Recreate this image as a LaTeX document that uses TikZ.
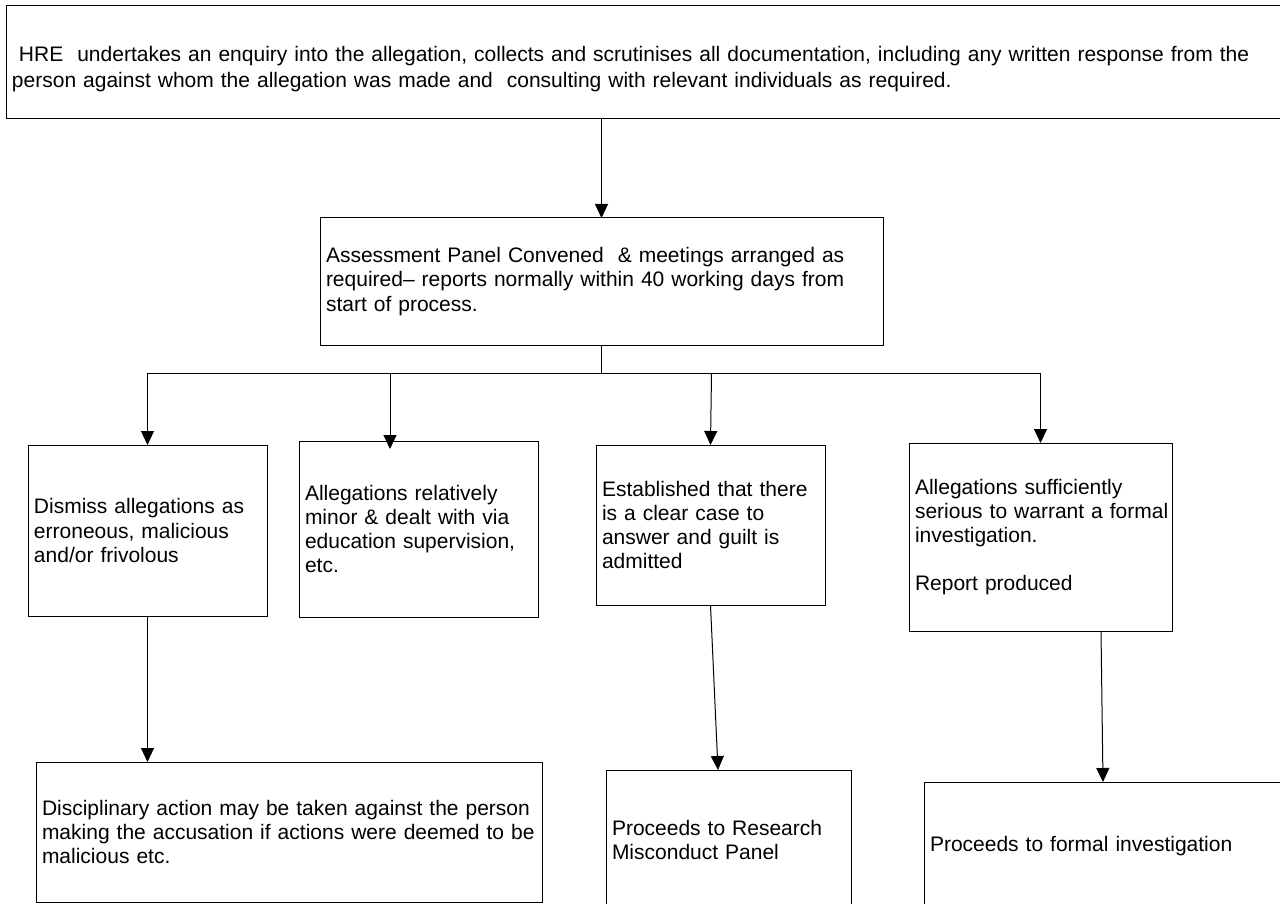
\documentclass[tikz,border=0pt]{standalone}
\usepackage{fontspec}
\setmainfont{Liberation Sans}
\usetikzlibrary{arrows.meta}
\hyphenpenalty=10000\relax
\exhyphenpenalty=10000\relax
\begin{document}
\begin{tikzpicture}[x=1pt,y=-1pt,
  every node/.style={font=\fontsize{21}{24.15}\selectfont},
  box/.style={draw=black, line width=1pt, anchor=north west, align=left,
    inner xsep=6pt, inner ysep=0pt, outer sep=0pt},
  conn/.style={draw=black, line width=1pt},
  arr/.style={conn, -{Triangle[length=14pt,width=13pt]}}]
\useasboundingbox (0,0) rectangle (1280,904);
\clip (0,0) rectangle (1280,904);

\node[box, minimum width=1284pt, minimum height=113pt, text width=1272pt,
      font=\fontsize{21}{26}\selectfont] (top) at (6,6)
  {\rule{0pt}{29pt}\ HRE\ \ undertakes an enquiry into the allegation, collects and scrutinises all documentation, including any written response from the\\
   person against whom the allegation was made and\ \ consulting with relevant individuals as required.};

\node[box, minimum width=563pt, minimum height=127pt, text width=551pt] (as) at (320,218)
  {Assessment Panel Convened\ \ \& meetings arranged as\\required– reports normally within 40 working days from\\start of process.};

\node[box, minimum width=239pt, minimum height=171pt, text width=227pt] (b1) at (28,445)
  {Dismiss allegations as\\erroneous, malicious\\and/or frivolous};
\node[box, minimum width=239pt, minimum height=176pt, text width=227pt] (b2) at (299,441)
  {Allegations relatively\\minor \& dealt with via\\education supervision,\\etc.};
\node[box, minimum width=229pt, minimum height=160pt, text width=217pt] (b3) at (596,445)
  {Established that there\\is a clear case to\\answer and guilt is\\admitted};
\node[box, minimum width=263pt, minimum height=188pt, text width=251pt] (b4) at (909,443)
  {Allegations sufficiently\\\mbox{serious to warrant a formal}\\investigation.\\~\\Report produced};

\node[box, minimum width=506pt, minimum height=140pt, text width=494pt] (b5) at (36,762)
  {Disciplinary action may be taken against the person\\making the accusation if actions were deemed to be\\malicious etc.};
\node[box, minimum width=245pt, minimum height=140pt, text width=233pt] (b6) at (606,770)
  {Proceeds to Research\\Misconduct Panel};
\node[box, minimum width=366pt, minimum height=128pt, text width=354pt] (b7) at (924,782)
  {Proceeds to formal investigation};

\draw[arr] (as.north |- top.south) -- (as.north);
\coordinate (split) at ([yshift=-28pt]as.south);
\draw[conn] (as.south) -- (split);
\draw[conn] (b1.north |- split) -- (b4.north |- split);
\draw[arr] (b1.north |- split) -- (b1.north);
\draw[arr] ([xshift=-28.5pt]b2.north |- split) -- ([xshift=-28.5pt,yshift=-8pt]b2.north);
\draw[arr] ([xshift=1pt]b3.north |- split) -- (b3.north);
\draw[arr] (b4.north |- split) -- (b4.north);

\draw[arr] (b1.south) -- (b1.south |- b5.north);
\draw[arr] (b3.south) -- ([xshift=-10.5pt]b6.north);
\draw[arr] ([xshift=60.5pt]b4.south) -- ([xshift=-4pt]b7.north);
\end{tikzpicture}
\end{document}
